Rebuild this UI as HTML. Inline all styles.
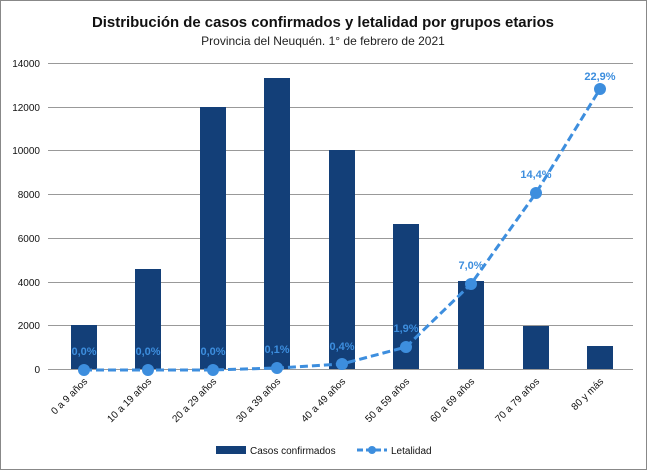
<!DOCTYPE html>
<html><head><meta charset="utf-8"><style>
body{margin:0;background:#fff}
svg{display:block;font-family:"Liberation Sans",sans-serif}
</style></head><body>
<svg width="647" height="470" viewBox="0 0 647 470">
<rect x="0.5" y="0.5" width="646" height="469" fill="#fff" stroke="#888"/>
<text x="323" y="27" text-anchor="middle" font-size="15" font-weight="bold" fill="#111" textLength="462" lengthAdjust="spacingAndGlyphs">Distribución de casos confirmados y letalidad por grupos etarios</text>
<text x="323" y="45" text-anchor="middle" font-size="12" fill="#222">Provincia del Neuquén. 1° de febrero de 2021</text>
<g stroke="#999" stroke-width="1">
<line x1="48" x2="633" y1="63.5" y2="63.5"/><line x1="48" x2="633" y1="107.5" y2="107.5"/>
<line x1="48" x2="633" y1="150.5" y2="150.5"/><line x1="48" x2="633" y1="194.5" y2="194.5"/>
<line x1="48" x2="633" y1="238.5" y2="238.5"/><line x1="48" x2="633" y1="282.5" y2="282.5"/>
<line x1="48" x2="633" y1="325.5" y2="325.5"/><line x1="48" x2="633" y1="369.5" y2="369.5"/>
</g>
<g font-size="10" fill="#111" text-anchor="end">
<text x="40" y="67">14000</text><text x="40" y="111">12000</text><text x="40" y="154">10000</text>
<text x="40" y="198">8000</text><text x="40" y="242">6000</text><text x="40" y="286">4000</text>
<text x="40" y="329">2000</text><text x="40" y="373">0</text>
</g>
<g fill="#133f78">
<rect x="71" y="325" width="26" height="44"/><rect x="135" y="269" width="26" height="100"/>
<rect x="200" y="107" width="26" height="262"/><rect x="264" y="78" width="26" height="291"/>
<rect x="329" y="150" width="26" height="219"/><rect x="393" y="224" width="26" height="145"/>
<rect x="458" y="281" width="26" height="88"/><rect x="523" y="326" width="26" height="43"/>
<rect x="587" y="346" width="26" height="23"/>
</g>
<polyline points="84,370 148,370 213,370 277,368 342,364 406,347 471,284 536,193 600,89" fill="none" stroke="#3d8ede" stroke-width="3" stroke-dasharray="8,4"/>
<g fill="#3d8ede">
<circle cx="84" cy="370" r="6"/><circle cx="148" cy="370" r="6"/><circle cx="213" cy="370" r="6"/>
<circle cx="277" cy="368" r="6"/><circle cx="342" cy="364" r="6"/><circle cx="406" cy="347" r="6"/>
<circle cx="471" cy="284" r="6"/><circle cx="536" cy="193" r="6"/><circle cx="600" cy="89" r="6"/>
</g>
<g font-size="11" font-weight="bold" fill="#3d8ede" text-anchor="middle">
<text x="84" y="355">0,0%</text><text x="148" y="355">0,0%</text><text x="213" y="355">0,0%</text>
<text x="277" y="353">0,1%</text><text x="342" y="350">0,4%</text><text x="406" y="332">1,9%</text>
<text x="471" y="269">7,0%</text><text x="536" y="178">14,4%</text><text x="600" y="80">22,9%</text>
</g>
<g font-size="10" fill="#111" text-anchor="end">
<text transform="translate(88,382) rotate(-45)">0 a 9 años</text>
<text transform="translate(152,382) rotate(-45)">10 a 19 años</text>
<text transform="translate(217,382) rotate(-45)">20 a 29 años</text>
<text transform="translate(281,382) rotate(-45)">30 a 39 años</text>
<text transform="translate(346,382) rotate(-45)">40 a 49 años</text>
<text transform="translate(410,382) rotate(-45)">50 a 59 años</text>
<text transform="translate(475,382) rotate(-45)">60 a 69 años</text>
<text transform="translate(540,382) rotate(-45)">70 a 79 años</text>
<text transform="translate(604,382) rotate(-45)">80 y más</text>
</g>
<rect x="216" y="446" width="30" height="8" fill="#133f78"/>
<text x="250" y="454" font-size="10" fill="#111">Casos confirmados</text>
<line x1="357" y1="450" x2="387" y2="450" stroke="#3d8ede" stroke-width="3" stroke-dasharray="6,3"/>
<circle cx="372" cy="450" r="4" fill="#3d8ede"/>
<text x="391" y="454" font-size="10" fill="#111">Letalidad</text>
</svg>
</body></html>
